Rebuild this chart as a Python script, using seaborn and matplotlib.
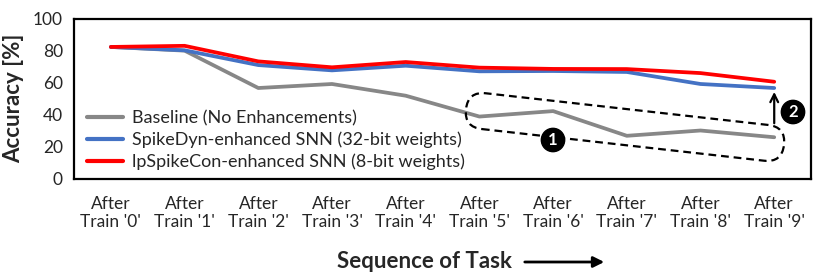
import matplotlib as mpl
mpl.use('agg')
import matplotlib.pyplot as plt
from matplotlib.patches import FancyBboxPatch
from matplotlib.transforms import Affine2D
import numpy as np
import pandas as pd
import seaborn as sns

# data
tasks = [f"After\nTrain '{i}'" for i in range(10)]
baseline = [82.3, 80.0, 56.7, 59.2, 51.9, 38.9, 42.3, 26.9, 30.2, 26.0]
spikedyn = [82.3, 80.2, 71.0, 67.7, 70.6, 67.1, 67.3, 66.7, 59.2, 56.7]
lpspikecon = [82.3, 83.0, 73.3, 69.6, 72.9, 69.4, 68.6, 68.5, 66.0, 60.6]
series = ['Baseline (No Enhancements)',
          'SpikeDyn-enhanced SNN (32-bit weights)',
          'lpSpikeCon-enhanced SNN (8-bit weights)']
colors = ['#878787', '#4472C4', '#FF0000']
yticks = [0, 20, 40, 60, 80, 100]

df = pd.DataFrame({
    'task': tasks * 3,
    'acc': baseline + spikedyn + lpspikecon,
    'method': [s for s in series for _ in tasks],
})

sns.set_style('white')
plt.rcParams['font.family'] = ['Lato', 'DejaVu Sans']

fig = plt.figure(figsize=(8.3, 2.77), dpi=100)
ax = fig.add_axes([0.0892, 0.354, 0.888, 0.579])

sns.lineplot(data=df, x='task', y='acc', hue='method', hue_order=series,
             palette=colors, linewidth=2.7, sort=False, ax=ax)

ax.set_xlim(-0.5, len(tasks) - 0.5)
ax.set_ylim(0, 100)
ax.set_yticks(yticks)
ax.tick_params(axis='both', length=0, labelsize=12.5)
ax.tick_params(axis='x', pad=12)
ax.tick_params(axis='y', pad=8)
for s in ax.spines.values():
    s.set_visible(True)
    s.set_color('black')
    s.set_linewidth(1.6)

ax.set_ylabel('Accuracy [%]', fontsize=16, fontweight='bold', labelpad=6)
ax.set_xlabel('Sequence of Task', fontsize=16, fontweight='bold')
ax.xaxis.label.set_va('center')
ax.xaxis.set_label_coords(0.476, -0.517)

# legend
leg = ax.legend(loc='lower left', bbox_to_anchor=(0.005, 0.0), frameon=False,
                fontsize=13, handlelength=2.0, handletextpad=0.5, labelspacing=0.3,
                borderaxespad=0.1)
for line in leg.get_lines():
    line.set_linewidth(3)

# dashed region around baseline drop
trans = Affine2D().rotate_deg(-6.4).translate(6.25, 1.50) + fig.dpi_scale_trans
region = FancyBboxPatch((-1.6, -0.18), 3.2, 0.36,
                        boxstyle='round,pad=0,rounding_size=0.18',
                        fill=False, linestyle=(0, (3.5, 2.2)), linewidth=1.6,
                        edgecolor='black', transform=trans, zorder=4)
ax.add_artist(region)

# arrow between baseline-ish and enhanced
ax.annotate('', xy=(9, 56), xytext=(9, 33),
            arrowprops=dict(arrowstyle='->', color='black', lw=1.6,
                            mutation_scale=14), zorder=5)

# numbered markers
for txt, (px, py) in [('1', (553, 140)), ('2', (793, 112))]:
    fig.text(px / 830, 1 - py / 277, txt, ha='center', va='center',
             color='white', fontsize=12, fontweight='bold',
             bbox=dict(boxstyle='circle,pad=0.22', fc='black', ec='black'),
             zorder=6)

# arrow next to x label
ax.annotate('', xy=(607, 15), xytext=(522, 15), xycoords='figure pixels',
            textcoords='figure pixels',
            arrowprops=dict(arrowstyle='-|>', color='black', lw=2,
                            mutation_scale=16))

plt.savefig('out.png', dpi=100)
